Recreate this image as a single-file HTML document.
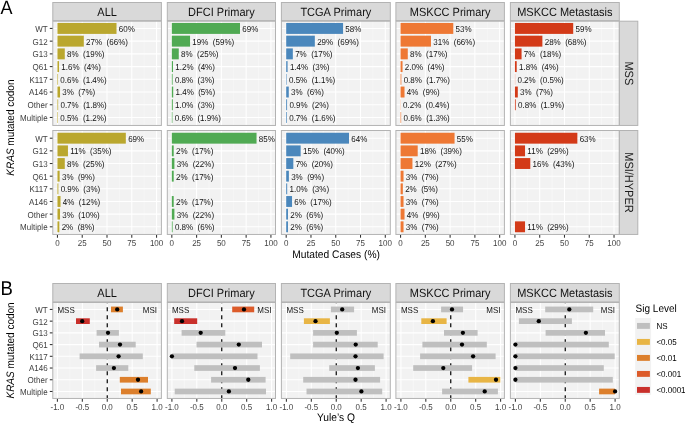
<!DOCTYPE html>
<html><head><meta charset="utf-8"><style>
html,body{margin:0;padding:0;background:#fff;}
body{width:685px;height:423px;overflow:hidden;}
svg{display:block;will-change:transform;}
text{font-family:"Liberation Sans", sans-serif;white-space:pre;text-rendering:geometricPrecision;}
</style></head><body>
<svg width="685" height="423" viewBox="0 0 685 423" font-family='"Liberation Sans", sans-serif'>
<rect width="685" height="423" fill="#FFFFFF"/>
<text transform="translate(0.60,14.00) scale(1,1.08)" font-size="18" text-anchor="start" fill="#000" >A</text>
<rect x="52.80" y="20.80" width="108.60" height="104.30" fill="#F2F2F2"/>
<line x1="69.84" y1="20.80" x2="69.84" y2="125.10" stroke="#FAFAFA" stroke-width="0.55"/>
<line x1="94.61" y1="20.80" x2="94.61" y2="125.10" stroke="#FAFAFA" stroke-width="0.55"/>
<line x1="119.39" y1="20.80" x2="119.39" y2="125.10" stroke="#FAFAFA" stroke-width="0.55"/>
<line x1="144.16" y1="20.80" x2="144.16" y2="125.10" stroke="#FAFAFA" stroke-width="0.55"/>
<line x1="52.80" y1="28.43" x2="161.40" y2="28.43" stroke="#FFFFFF" stroke-width="1.07"/>
<line x1="52.80" y1="41.15" x2="161.40" y2="41.15" stroke="#FFFFFF" stroke-width="1.07"/>
<line x1="52.80" y1="53.87" x2="161.40" y2="53.87" stroke="#FFFFFF" stroke-width="1.07"/>
<line x1="52.80" y1="66.59" x2="161.40" y2="66.59" stroke="#FFFFFF" stroke-width="1.07"/>
<line x1="52.80" y1="79.31" x2="161.40" y2="79.31" stroke="#FFFFFF" stroke-width="1.07"/>
<line x1="52.80" y1="92.03" x2="161.40" y2="92.03" stroke="#FFFFFF" stroke-width="1.07"/>
<line x1="52.80" y1="104.75" x2="161.40" y2="104.75" stroke="#FFFFFF" stroke-width="1.07"/>
<line x1="52.80" y1="117.47" x2="161.40" y2="117.47" stroke="#FFFFFF" stroke-width="1.07"/>
<line x1="57.45" y1="20.80" x2="57.45" y2="125.10" stroke="#FFFFFF" stroke-width="1.07"/>
<line x1="82.23" y1="20.80" x2="82.23" y2="125.10" stroke="#FFFFFF" stroke-width="1.07"/>
<line x1="107.00" y1="20.80" x2="107.00" y2="125.10" stroke="#FFFFFF" stroke-width="1.07"/>
<line x1="131.77" y1="20.80" x2="131.77" y2="125.10" stroke="#FFFFFF" stroke-width="1.07"/>
<line x1="156.55" y1="20.80" x2="156.55" y2="125.10" stroke="#FFFFFF" stroke-width="1.07"/>
<rect x="57.45" y="22.96" width="59.06" height="10.94" fill="#BAA72E"/>
<text transform="translate(118.81,32.00) scale(1,1.08)" font-size="8" text-anchor="start" fill="#111111" >60%</text>
<rect x="57.45" y="35.68" width="26.36" height="10.94" fill="#BAA72E"/>
<text transform="translate(86.11,45.00) scale(1,1.08)" font-size="8" text-anchor="start" fill="#111111" >27%  (66%)</text>
<rect x="57.45" y="48.40" width="7.33" height="10.94" fill="#BAA72E"/>
<text transform="translate(67.09,57.00) scale(1,1.08)" font-size="8" text-anchor="start" fill="#111111" >8%  (19%)</text>
<rect x="57.45" y="61.12" width="1.59" height="10.94" fill="#BAA72E"/>
<text transform="translate(61.34,70.00) scale(1,1.08)" font-size="8" text-anchor="start" fill="#111111" >1.6%  (4%)</text>
<rect x="57.45" y="73.84" width="0.59" height="10.94" fill="#BAA72E"/>
<text transform="translate(60.35,83.00) scale(1,1.08)" font-size="8" text-anchor="start" fill="#111111" >0.6%  (1.4%)</text>
<rect x="57.45" y="86.56" width="2.58" height="10.94" fill="#BAA72E"/>
<text transform="translate(62.33,95.00) scale(1,1.08)" font-size="8" text-anchor="start" fill="#111111" >3%  (7%)</text>
<rect x="57.45" y="99.28" width="0.69" height="10.94" fill="#BAA72E"/>
<text transform="translate(60.45,108.00) scale(1,1.08)" font-size="8" text-anchor="start" fill="#111111" >0.7%  (1.8%)</text>
<rect x="57.45" y="112.00" width="0.50" height="10.94" fill="#BAA72E"/>
<text transform="translate(60.25,121.00) scale(1,1.08)" font-size="8" text-anchor="start" fill="#111111" >0.5%  (1.2%)</text>
<rect x="52.80" y="21.20" width="108.60" height="104.25" fill="none" stroke="#B3B3B3" stroke-width="1"/>
<rect x="52.80" y="130.60" width="108.60" height="103.80" fill="#F2F2F2"/>
<line x1="69.84" y1="130.60" x2="69.84" y2="234.40" stroke="#FAFAFA" stroke-width="0.55"/>
<line x1="94.61" y1="130.60" x2="94.61" y2="234.40" stroke="#FAFAFA" stroke-width="0.55"/>
<line x1="119.39" y1="130.60" x2="119.39" y2="234.40" stroke="#FAFAFA" stroke-width="0.55"/>
<line x1="144.16" y1="130.60" x2="144.16" y2="234.40" stroke="#FAFAFA" stroke-width="0.55"/>
<line x1="52.80" y1="138.20" x2="161.40" y2="138.20" stroke="#FFFFFF" stroke-width="1.07"/>
<line x1="52.80" y1="150.85" x2="161.40" y2="150.85" stroke="#FFFFFF" stroke-width="1.07"/>
<line x1="52.80" y1="163.51" x2="161.40" y2="163.51" stroke="#FFFFFF" stroke-width="1.07"/>
<line x1="52.80" y1="176.17" x2="161.40" y2="176.17" stroke="#FFFFFF" stroke-width="1.07"/>
<line x1="52.80" y1="188.83" x2="161.40" y2="188.83" stroke="#FFFFFF" stroke-width="1.07"/>
<line x1="52.80" y1="201.49" x2="161.40" y2="201.49" stroke="#FFFFFF" stroke-width="1.07"/>
<line x1="52.80" y1="214.15" x2="161.40" y2="214.15" stroke="#FFFFFF" stroke-width="1.07"/>
<line x1="52.80" y1="226.80" x2="161.40" y2="226.80" stroke="#FFFFFF" stroke-width="1.07"/>
<line x1="57.45" y1="130.60" x2="57.45" y2="234.40" stroke="#FFFFFF" stroke-width="1.07"/>
<line x1="82.23" y1="130.60" x2="82.23" y2="234.40" stroke="#FFFFFF" stroke-width="1.07"/>
<line x1="107.00" y1="130.60" x2="107.00" y2="234.40" stroke="#FFFFFF" stroke-width="1.07"/>
<line x1="131.77" y1="130.60" x2="131.77" y2="234.40" stroke="#FFFFFF" stroke-width="1.07"/>
<line x1="156.55" y1="130.60" x2="156.55" y2="234.40" stroke="#FFFFFF" stroke-width="1.07"/>
<rect x="57.45" y="132.75" width="68.37" height="10.89" fill="#BAA72E"/>
<text transform="translate(128.13,142.00) scale(1,1.08)" font-size="8" text-anchor="start" fill="#111111" >69%</text>
<rect x="57.45" y="145.41" width="10.50" height="10.89" fill="#BAA72E"/>
<text transform="translate(70.26,154.00) scale(1,1.08)" font-size="8" text-anchor="start" fill="#111111" >11%  (35%)</text>
<rect x="57.45" y="158.07" width="7.33" height="10.89" fill="#BAA72E"/>
<text transform="translate(67.09,167.00) scale(1,1.08)" font-size="8" text-anchor="start" fill="#111111" >8%  (25%)</text>
<rect x="57.45" y="170.73" width="2.18" height="10.89" fill="#BAA72E"/>
<text transform="translate(61.93,180.00) scale(1,1.08)" font-size="8" text-anchor="start" fill="#111111" >3%  (9%)</text>
<rect x="57.45" y="183.39" width="0.89" height="10.89" fill="#BAA72E"/>
<text transform="translate(60.65,192.00) scale(1,1.08)" font-size="8" text-anchor="start" fill="#111111" >0.9%  (3%)</text>
<rect x="57.45" y="196.04" width="3.07" height="10.89" fill="#BAA72E"/>
<text transform="translate(62.83,205.00) scale(1,1.08)" font-size="8" text-anchor="start" fill="#111111" >4%  (12%)</text>
<rect x="57.45" y="208.70" width="2.58" height="10.89" fill="#BAA72E"/>
<text transform="translate(62.33,218.00) scale(1,1.08)" font-size="8" text-anchor="start" fill="#111111" >3%  (10%)</text>
<rect x="57.45" y="221.36" width="1.88" height="10.89" fill="#BAA72E"/>
<text transform="translate(61.64,230.00) scale(1,1.08)" font-size="8" text-anchor="start" fill="#111111" >2%  (8%)</text>
<rect x="52.80" y="130.50" width="108.60" height="103.95" fill="none" stroke="#B3B3B3" stroke-width="1"/>
<rect x="52.80" y="2.50" width="108.60" height="18.10" fill="#D9D9D9" stroke="#B3B3B3" stroke-width="1"/>
<text transform="translate(107.10,15.51) scale(1,1.08)" font-size="11" text-anchor="middle" fill="#111111" >ALL</text>
<line x1="57.45" y1="234.95" x2="57.45" y2="237.70" stroke="#333" stroke-width="1.07"/>
<text transform="translate(57.45,246.00) scale(1,1.08)" font-size="8" text-anchor="middle" fill="#424242" >0</text>
<line x1="82.23" y1="234.95" x2="82.23" y2="237.70" stroke="#333" stroke-width="1.07"/>
<text transform="translate(82.23,246.00) scale(1,1.08)" font-size="8" text-anchor="middle" fill="#424242" >25</text>
<line x1="107.00" y1="234.95" x2="107.00" y2="237.70" stroke="#333" stroke-width="1.07"/>
<text transform="translate(107.00,246.00) scale(1,1.08)" font-size="8" text-anchor="middle" fill="#424242" >50</text>
<line x1="131.77" y1="234.95" x2="131.77" y2="237.70" stroke="#333" stroke-width="1.07"/>
<text transform="translate(131.77,246.00) scale(1,1.08)" font-size="8" text-anchor="middle" fill="#424242" >75</text>
<line x1="156.55" y1="234.95" x2="156.55" y2="237.70" stroke="#333" stroke-width="1.07"/>
<text transform="translate(156.55,246.00) scale(1,1.08)" font-size="8" text-anchor="middle" fill="#424242" >100</text>
<rect x="167.30" y="20.80" width="108.20" height="104.30" fill="#F2F2F2"/>
<line x1="184.21" y1="20.80" x2="184.21" y2="125.10" stroke="#FAFAFA" stroke-width="0.55"/>
<line x1="208.98" y1="20.80" x2="208.98" y2="125.10" stroke="#FAFAFA" stroke-width="0.55"/>
<line x1="233.76" y1="20.80" x2="233.76" y2="125.10" stroke="#FAFAFA" stroke-width="0.55"/>
<line x1="258.53" y1="20.80" x2="258.53" y2="125.10" stroke="#FAFAFA" stroke-width="0.55"/>
<line x1="167.30" y1="28.43" x2="275.50" y2="28.43" stroke="#FFFFFF" stroke-width="1.07"/>
<line x1="167.30" y1="41.15" x2="275.50" y2="41.15" stroke="#FFFFFF" stroke-width="1.07"/>
<line x1="167.30" y1="53.87" x2="275.50" y2="53.87" stroke="#FFFFFF" stroke-width="1.07"/>
<line x1="167.30" y1="66.59" x2="275.50" y2="66.59" stroke="#FFFFFF" stroke-width="1.07"/>
<line x1="167.30" y1="79.31" x2="275.50" y2="79.31" stroke="#FFFFFF" stroke-width="1.07"/>
<line x1="167.30" y1="92.03" x2="275.50" y2="92.03" stroke="#FFFFFF" stroke-width="1.07"/>
<line x1="167.30" y1="104.75" x2="275.50" y2="104.75" stroke="#FFFFFF" stroke-width="1.07"/>
<line x1="167.30" y1="117.47" x2="275.50" y2="117.47" stroke="#FFFFFF" stroke-width="1.07"/>
<line x1="171.82" y1="20.80" x2="171.82" y2="125.10" stroke="#FFFFFF" stroke-width="1.07"/>
<line x1="196.60" y1="20.80" x2="196.60" y2="125.10" stroke="#FFFFFF" stroke-width="1.07"/>
<line x1="221.37" y1="20.80" x2="221.37" y2="125.10" stroke="#FFFFFF" stroke-width="1.07"/>
<line x1="246.14" y1="20.80" x2="246.14" y2="125.10" stroke="#FFFFFF" stroke-width="1.07"/>
<line x1="270.92" y1="20.80" x2="270.92" y2="125.10" stroke="#FFFFFF" stroke-width="1.07"/>
<rect x="171.82" y="22.96" width="68.17" height="10.94" fill="#50AA53"/>
<text transform="translate(242.30,32.00) scale(1,1.08)" font-size="8" text-anchor="start" fill="#111111" >69%</text>
<rect x="171.82" y="35.68" width="18.23" height="10.94" fill="#50AA53"/>
<text transform="translate(192.36,45.00) scale(1,1.08)" font-size="8" text-anchor="start" fill="#111111" >19%  (59%)</text>
<rect x="171.82" y="48.40" width="6.94" height="10.94" fill="#50AA53"/>
<text transform="translate(181.06,57.00) scale(1,1.08)" font-size="8" text-anchor="start" fill="#111111" >8%  (25%)</text>
<rect x="171.82" y="61.12" width="1.19" height="10.94" fill="#50AA53"/>
<text transform="translate(175.31,70.00) scale(1,1.08)" font-size="8" text-anchor="start" fill="#111111" >1.2%  (4%)</text>
<rect x="171.82" y="73.84" width="0.79" height="10.94" fill="#50AA53"/>
<text transform="translate(174.92,83.00) scale(1,1.08)" font-size="8" text-anchor="start" fill="#111111" >0.8%  (3%)</text>
<rect x="171.82" y="86.56" width="1.39" height="10.94" fill="#50AA53"/>
<text transform="translate(175.51,95.00) scale(1,1.08)" font-size="8" text-anchor="start" fill="#111111" >1.4%  (5%)</text>
<rect x="171.82" y="99.28" width="0.99" height="10.94" fill="#50AA53"/>
<text transform="translate(175.12,108.00) scale(1,1.08)" font-size="8" text-anchor="start" fill="#111111" >1.0%  (3%)</text>
<rect x="171.82" y="112.00" width="0.59" height="10.94" fill="#50AA53"/>
<text transform="translate(174.72,121.00) scale(1,1.08)" font-size="8" text-anchor="start" fill="#111111" >0.6%  (1.9%)</text>
<rect x="167.30" y="21.20" width="108.20" height="104.25" fill="none" stroke="#B3B3B3" stroke-width="1"/>
<rect x="167.30" y="130.60" width="108.20" height="103.80" fill="#F2F2F2"/>
<line x1="184.21" y1="130.60" x2="184.21" y2="234.40" stroke="#FAFAFA" stroke-width="0.55"/>
<line x1="208.98" y1="130.60" x2="208.98" y2="234.40" stroke="#FAFAFA" stroke-width="0.55"/>
<line x1="233.76" y1="130.60" x2="233.76" y2="234.40" stroke="#FAFAFA" stroke-width="0.55"/>
<line x1="258.53" y1="130.60" x2="258.53" y2="234.40" stroke="#FAFAFA" stroke-width="0.55"/>
<line x1="167.30" y1="138.20" x2="275.50" y2="138.20" stroke="#FFFFFF" stroke-width="1.07"/>
<line x1="167.30" y1="150.85" x2="275.50" y2="150.85" stroke="#FFFFFF" stroke-width="1.07"/>
<line x1="167.30" y1="163.51" x2="275.50" y2="163.51" stroke="#FFFFFF" stroke-width="1.07"/>
<line x1="167.30" y1="176.17" x2="275.50" y2="176.17" stroke="#FFFFFF" stroke-width="1.07"/>
<line x1="167.30" y1="188.83" x2="275.50" y2="188.83" stroke="#FFFFFF" stroke-width="1.07"/>
<line x1="167.30" y1="201.49" x2="275.50" y2="201.49" stroke="#FFFFFF" stroke-width="1.07"/>
<line x1="167.30" y1="214.15" x2="275.50" y2="214.15" stroke="#FFFFFF" stroke-width="1.07"/>
<line x1="167.30" y1="226.80" x2="275.50" y2="226.80" stroke="#FFFFFF" stroke-width="1.07"/>
<line x1="171.82" y1="130.60" x2="171.82" y2="234.40" stroke="#FFFFFF" stroke-width="1.07"/>
<line x1="196.60" y1="130.60" x2="196.60" y2="234.40" stroke="#FFFFFF" stroke-width="1.07"/>
<line x1="221.37" y1="130.60" x2="221.37" y2="234.40" stroke="#FFFFFF" stroke-width="1.07"/>
<line x1="246.14" y1="130.60" x2="246.14" y2="234.40" stroke="#FFFFFF" stroke-width="1.07"/>
<line x1="270.92" y1="130.60" x2="270.92" y2="234.40" stroke="#FFFFFF" stroke-width="1.07"/>
<rect x="171.82" y="132.75" width="84.72" height="10.89" fill="#50AA53"/>
<text transform="translate(258.85,142.00) scale(1,1.08)" font-size="8" text-anchor="start" fill="#111111" >85%</text>
<rect x="171.82" y="145.41" width="1.88" height="10.89" fill="#50AA53"/>
<text transform="translate(176.01,154.00) scale(1,1.08)" font-size="8" text-anchor="start" fill="#111111" >2%  (17%)</text>
<rect x="171.82" y="158.07" width="2.58" height="10.89" fill="#50AA53"/>
<text transform="translate(176.70,167.00) scale(1,1.08)" font-size="8" text-anchor="start" fill="#111111" >3%  (22%)</text>
<rect x="171.82" y="170.73" width="1.88" height="10.89" fill="#50AA53"/>
<text transform="translate(176.01,180.00) scale(1,1.08)" font-size="8" text-anchor="start" fill="#111111" >2%  (17%)</text>
<rect x="171.82" y="196.04" width="1.88" height="10.89" fill="#50AA53"/>
<text transform="translate(176.01,205.00) scale(1,1.08)" font-size="8" text-anchor="start" fill="#111111" >2%  (17%)</text>
<rect x="171.82" y="208.70" width="2.58" height="10.89" fill="#50AA53"/>
<text transform="translate(176.70,218.00) scale(1,1.08)" font-size="8" text-anchor="start" fill="#111111" >3%  (22%)</text>
<rect x="171.82" y="221.36" width="0.79" height="10.89" fill="#50AA53"/>
<text transform="translate(174.92,230.00) scale(1,1.08)" font-size="8" text-anchor="start" fill="#111111" >0.8%  (6%)</text>
<rect x="167.30" y="130.50" width="108.20" height="103.95" fill="none" stroke="#B3B3B3" stroke-width="1"/>
<rect x="167.30" y="2.50" width="108.20" height="18.10" fill="#D9D9D9" stroke="#B3B3B3" stroke-width="1"/>
<text transform="translate(221.40,15.51) scale(1,1.08)" font-size="11" text-anchor="middle" fill="#111111" >DFCI Primary</text>
<line x1="171.82" y1="234.95" x2="171.82" y2="237.70" stroke="#333" stroke-width="1.07"/>
<text transform="translate(171.82,246.00) scale(1,1.08)" font-size="8" text-anchor="middle" fill="#424242" >0</text>
<line x1="196.60" y1="234.95" x2="196.60" y2="237.70" stroke="#333" stroke-width="1.07"/>
<text transform="translate(196.60,246.00) scale(1,1.08)" font-size="8" text-anchor="middle" fill="#424242" >25</text>
<line x1="221.37" y1="234.95" x2="221.37" y2="237.70" stroke="#333" stroke-width="1.07"/>
<text transform="translate(221.37,246.00) scale(1,1.08)" font-size="8" text-anchor="middle" fill="#424242" >50</text>
<line x1="246.14" y1="234.95" x2="246.14" y2="237.70" stroke="#333" stroke-width="1.07"/>
<text transform="translate(246.14,246.00) scale(1,1.08)" font-size="8" text-anchor="middle" fill="#424242" >75</text>
<line x1="270.92" y1="234.95" x2="270.92" y2="237.70" stroke="#333" stroke-width="1.07"/>
<text transform="translate(270.92,246.00) scale(1,1.08)" font-size="8" text-anchor="middle" fill="#424242" >100</text>
<rect x="281.40" y="20.80" width="108.90" height="104.30" fill="#F2F2F2"/>
<line x1="298.58" y1="20.80" x2="298.58" y2="125.10" stroke="#FAFAFA" stroke-width="0.55"/>
<line x1="323.35" y1="20.80" x2="323.35" y2="125.10" stroke="#FAFAFA" stroke-width="0.55"/>
<line x1="348.13" y1="20.80" x2="348.13" y2="125.10" stroke="#FAFAFA" stroke-width="0.55"/>
<line x1="372.90" y1="20.80" x2="372.90" y2="125.10" stroke="#FAFAFA" stroke-width="0.55"/>
<line x1="281.40" y1="28.43" x2="390.30" y2="28.43" stroke="#FFFFFF" stroke-width="1.07"/>
<line x1="281.40" y1="41.15" x2="390.30" y2="41.15" stroke="#FFFFFF" stroke-width="1.07"/>
<line x1="281.40" y1="53.87" x2="390.30" y2="53.87" stroke="#FFFFFF" stroke-width="1.07"/>
<line x1="281.40" y1="66.59" x2="390.30" y2="66.59" stroke="#FFFFFF" stroke-width="1.07"/>
<line x1="281.40" y1="79.31" x2="390.30" y2="79.31" stroke="#FFFFFF" stroke-width="1.07"/>
<line x1="281.40" y1="92.03" x2="390.30" y2="92.03" stroke="#FFFFFF" stroke-width="1.07"/>
<line x1="281.40" y1="104.75" x2="390.30" y2="104.75" stroke="#FFFFFF" stroke-width="1.07"/>
<line x1="281.40" y1="117.47" x2="390.30" y2="117.47" stroke="#FFFFFF" stroke-width="1.07"/>
<line x1="286.19" y1="20.80" x2="286.19" y2="125.10" stroke="#FFFFFF" stroke-width="1.07"/>
<line x1="310.97" y1="20.80" x2="310.97" y2="125.10" stroke="#FFFFFF" stroke-width="1.07"/>
<line x1="335.74" y1="20.80" x2="335.74" y2="125.10" stroke="#FFFFFF" stroke-width="1.07"/>
<line x1="360.51" y1="20.80" x2="360.51" y2="125.10" stroke="#FFFFFF" stroke-width="1.07"/>
<line x1="385.29" y1="20.80" x2="385.29" y2="125.10" stroke="#FFFFFF" stroke-width="1.07"/>
<rect x="286.19" y="22.96" width="56.88" height="10.94" fill="#4A87BC"/>
<text transform="translate(345.37,32.00) scale(1,1.08)" font-size="8" text-anchor="start" fill="#111111" >58%</text>
<rect x="286.19" y="35.68" width="28.64" height="10.94" fill="#4A87BC"/>
<text transform="translate(317.13,45.00) scale(1,1.08)" font-size="8" text-anchor="start" fill="#111111" >29%  (69%)</text>
<rect x="286.19" y="48.40" width="6.64" height="10.94" fill="#4A87BC"/>
<text transform="translate(295.13,57.00) scale(1,1.08)" font-size="8" text-anchor="start" fill="#111111" >7%  (17%)</text>
<rect x="286.19" y="61.12" width="1.39" height="10.94" fill="#4A87BC"/>
<text transform="translate(289.88,70.00) scale(1,1.08)" font-size="8" text-anchor="start" fill="#111111" >1.4%  (3%)</text>
<rect x="286.19" y="73.84" width="0.50" height="10.94" fill="#4A87BC"/>
<text transform="translate(288.99,83.00) scale(1,1.08)" font-size="8" text-anchor="start" fill="#111111" >0.5%  (1.1%)</text>
<rect x="286.19" y="86.56" width="2.58" height="10.94" fill="#4A87BC"/>
<text transform="translate(291.07,95.00) scale(1,1.08)" font-size="8" text-anchor="start" fill="#111111" >3%  (6%)</text>
<rect x="286.19" y="99.28" width="0.89" height="10.94" fill="#4A87BC"/>
<text transform="translate(289.39,108.00) scale(1,1.08)" font-size="8" text-anchor="start" fill="#111111" >0.9%  (2%)</text>
<rect x="286.19" y="112.00" width="0.69" height="10.94" fill="#4A87BC"/>
<text transform="translate(289.19,121.00) scale(1,1.08)" font-size="8" text-anchor="start" fill="#111111" >0.7%  (1.6%)</text>
<rect x="281.40" y="21.20" width="108.90" height="104.25" fill="none" stroke="#B3B3B3" stroke-width="1"/>
<rect x="281.40" y="130.60" width="108.90" height="103.80" fill="#F2F2F2"/>
<line x1="298.58" y1="130.60" x2="298.58" y2="234.40" stroke="#FAFAFA" stroke-width="0.55"/>
<line x1="323.35" y1="130.60" x2="323.35" y2="234.40" stroke="#FAFAFA" stroke-width="0.55"/>
<line x1="348.13" y1="130.60" x2="348.13" y2="234.40" stroke="#FAFAFA" stroke-width="0.55"/>
<line x1="372.90" y1="130.60" x2="372.90" y2="234.40" stroke="#FAFAFA" stroke-width="0.55"/>
<line x1="281.40" y1="138.20" x2="390.30" y2="138.20" stroke="#FFFFFF" stroke-width="1.07"/>
<line x1="281.40" y1="150.85" x2="390.30" y2="150.85" stroke="#FFFFFF" stroke-width="1.07"/>
<line x1="281.40" y1="163.51" x2="390.30" y2="163.51" stroke="#FFFFFF" stroke-width="1.07"/>
<line x1="281.40" y1="176.17" x2="390.30" y2="176.17" stroke="#FFFFFF" stroke-width="1.07"/>
<line x1="281.40" y1="188.83" x2="390.30" y2="188.83" stroke="#FFFFFF" stroke-width="1.07"/>
<line x1="281.40" y1="201.49" x2="390.30" y2="201.49" stroke="#FFFFFF" stroke-width="1.07"/>
<line x1="281.40" y1="214.15" x2="390.30" y2="214.15" stroke="#FFFFFF" stroke-width="1.07"/>
<line x1="281.40" y1="226.80" x2="390.30" y2="226.80" stroke="#FFFFFF" stroke-width="1.07"/>
<line x1="286.19" y1="130.60" x2="286.19" y2="234.40" stroke="#FFFFFF" stroke-width="1.07"/>
<line x1="310.97" y1="130.60" x2="310.97" y2="234.40" stroke="#FFFFFF" stroke-width="1.07"/>
<line x1="335.74" y1="130.60" x2="335.74" y2="234.40" stroke="#FFFFFF" stroke-width="1.07"/>
<line x1="360.51" y1="130.60" x2="360.51" y2="234.40" stroke="#FFFFFF" stroke-width="1.07"/>
<line x1="385.29" y1="130.60" x2="385.29" y2="234.40" stroke="#FFFFFF" stroke-width="1.07"/>
<rect x="286.19" y="132.75" width="62.82" height="10.89" fill="#4A87BC"/>
<text transform="translate(351.32,142.00) scale(1,1.08)" font-size="8" text-anchor="start" fill="#111111" >64%</text>
<rect x="286.19" y="145.41" width="14.47" height="10.89" fill="#4A87BC"/>
<text transform="translate(302.96,154.00) scale(1,1.08)" font-size="8" text-anchor="start" fill="#111111" >15%  (40%)</text>
<rect x="286.19" y="158.07" width="7.13" height="10.89" fill="#4A87BC"/>
<text transform="translate(295.63,167.00) scale(1,1.08)" font-size="8" text-anchor="start" fill="#111111" >7%  (20%)</text>
<rect x="286.19" y="170.73" width="2.68" height="10.89" fill="#4A87BC"/>
<text transform="translate(291.17,180.00) scale(1,1.08)" font-size="8" text-anchor="start" fill="#111111" >3%  (9%)</text>
<rect x="286.19" y="183.39" width="0.99" height="10.89" fill="#4A87BC"/>
<text transform="translate(289.49,192.00) scale(1,1.08)" font-size="8" text-anchor="start" fill="#111111" >1.0%  (3%)</text>
<rect x="286.19" y="196.04" width="5.85" height="10.89" fill="#4A87BC"/>
<text transform="translate(294.34,205.00) scale(1,1.08)" font-size="8" text-anchor="start" fill="#111111" >6%  (17%)</text>
<rect x="286.19" y="208.70" width="1.78" height="10.89" fill="#4A87BC"/>
<text transform="translate(290.28,218.00) scale(1,1.08)" font-size="8" text-anchor="start" fill="#111111" >2%  (6%)</text>
<rect x="286.19" y="221.36" width="1.78" height="10.89" fill="#4A87BC"/>
<text transform="translate(290.28,230.00) scale(1,1.08)" font-size="8" text-anchor="start" fill="#111111" >2%  (6%)</text>
<rect x="281.40" y="130.50" width="108.90" height="103.95" fill="none" stroke="#B3B3B3" stroke-width="1"/>
<rect x="281.40" y="2.50" width="108.90" height="18.10" fill="#D9D9D9" stroke="#B3B3B3" stroke-width="1"/>
<text transform="translate(335.85,15.51) scale(1,1.08)" font-size="11" text-anchor="middle" fill="#111111" >TCGA Primary</text>
<line x1="286.19" y1="234.95" x2="286.19" y2="237.70" stroke="#333" stroke-width="1.07"/>
<text transform="translate(286.19,246.00) scale(1,1.08)" font-size="8" text-anchor="middle" fill="#424242" >0</text>
<line x1="310.97" y1="234.95" x2="310.97" y2="237.70" stroke="#333" stroke-width="1.07"/>
<text transform="translate(310.97,246.00) scale(1,1.08)" font-size="8" text-anchor="middle" fill="#424242" >25</text>
<line x1="335.74" y1="234.95" x2="335.74" y2="237.70" stroke="#333" stroke-width="1.07"/>
<text transform="translate(335.74,246.00) scale(1,1.08)" font-size="8" text-anchor="middle" fill="#424242" >50</text>
<line x1="360.51" y1="234.95" x2="360.51" y2="237.70" stroke="#333" stroke-width="1.07"/>
<text transform="translate(360.51,246.00) scale(1,1.08)" font-size="8" text-anchor="middle" fill="#424242" >75</text>
<line x1="385.29" y1="234.95" x2="385.29" y2="237.70" stroke="#333" stroke-width="1.07"/>
<text transform="translate(385.29,246.00) scale(1,1.08)" font-size="8" text-anchor="middle" fill="#424242" >100</text>
<rect x="395.90" y="20.80" width="108.50" height="104.30" fill="#F2F2F2"/>
<line x1="412.95" y1="20.80" x2="412.95" y2="125.10" stroke="#FAFAFA" stroke-width="0.55"/>
<line x1="437.72" y1="20.80" x2="437.72" y2="125.10" stroke="#FAFAFA" stroke-width="0.55"/>
<line x1="462.50" y1="20.80" x2="462.50" y2="125.10" stroke="#FAFAFA" stroke-width="0.55"/>
<line x1="487.27" y1="20.80" x2="487.27" y2="125.10" stroke="#FAFAFA" stroke-width="0.55"/>
<line x1="395.90" y1="28.43" x2="504.40" y2="28.43" stroke="#FFFFFF" stroke-width="1.07"/>
<line x1="395.90" y1="41.15" x2="504.40" y2="41.15" stroke="#FFFFFF" stroke-width="1.07"/>
<line x1="395.90" y1="53.87" x2="504.40" y2="53.87" stroke="#FFFFFF" stroke-width="1.07"/>
<line x1="395.90" y1="66.59" x2="504.40" y2="66.59" stroke="#FFFFFF" stroke-width="1.07"/>
<line x1="395.90" y1="79.31" x2="504.40" y2="79.31" stroke="#FFFFFF" stroke-width="1.07"/>
<line x1="395.90" y1="92.03" x2="504.40" y2="92.03" stroke="#FFFFFF" stroke-width="1.07"/>
<line x1="395.90" y1="104.75" x2="504.40" y2="104.75" stroke="#FFFFFF" stroke-width="1.07"/>
<line x1="395.90" y1="117.47" x2="504.40" y2="117.47" stroke="#FFFFFF" stroke-width="1.07"/>
<line x1="400.56" y1="20.80" x2="400.56" y2="125.10" stroke="#FFFFFF" stroke-width="1.07"/>
<line x1="425.34" y1="20.80" x2="425.34" y2="125.10" stroke="#FFFFFF" stroke-width="1.07"/>
<line x1="450.11" y1="20.80" x2="450.11" y2="125.10" stroke="#FFFFFF" stroke-width="1.07"/>
<line x1="474.88" y1="20.80" x2="474.88" y2="125.10" stroke="#FFFFFF" stroke-width="1.07"/>
<line x1="499.66" y1="20.80" x2="499.66" y2="125.10" stroke="#FFFFFF" stroke-width="1.07"/>
<rect x="400.56" y="22.96" width="52.72" height="10.94" fill="#EE7834"/>
<text transform="translate(455.58,32.00) scale(1,1.08)" font-size="8" text-anchor="start" fill="#111111" >53%</text>
<rect x="400.56" y="35.68" width="30.42" height="10.94" fill="#EE7834"/>
<text transform="translate(433.29,45.00) scale(1,1.08)" font-size="8" text-anchor="start" fill="#111111" >31%  (66%)</text>
<rect x="400.56" y="48.40" width="7.23" height="10.94" fill="#EE7834"/>
<text transform="translate(410.10,57.00) scale(1,1.08)" font-size="8" text-anchor="start" fill="#111111" >8%  (17%)</text>
<rect x="400.56" y="61.12" width="1.98" height="10.94" fill="#EE7834"/>
<text transform="translate(404.85,70.00) scale(1,1.08)" font-size="8" text-anchor="start" fill="#111111" >2.0%  (4%)</text>
<rect x="400.56" y="73.84" width="0.79" height="10.94" fill="#EE7834"/>
<text transform="translate(403.66,83.00) scale(1,1.08)" font-size="8" text-anchor="start" fill="#111111" >0.8%  (1.7%)</text>
<rect x="400.56" y="86.56" width="3.96" height="10.94" fill="#EE7834"/>
<text transform="translate(406.83,95.00) scale(1,1.08)" font-size="8" text-anchor="start" fill="#111111" >4%  (9%)</text>
<rect x="400.56" y="99.28" width="0.20" height="10.94" fill="#EE7834"/>
<text transform="translate(403.06,108.00) scale(1,1.08)" font-size="8" text-anchor="start" fill="#111111" >0.2%  (0.4%)</text>
<rect x="400.56" y="112.00" width="0.59" height="10.94" fill="#EE7834"/>
<text transform="translate(403.46,121.00) scale(1,1.08)" font-size="8" text-anchor="start" fill="#111111" >0.6%  (1.3%)</text>
<rect x="395.90" y="21.20" width="108.50" height="104.25" fill="none" stroke="#B3B3B3" stroke-width="1"/>
<rect x="395.90" y="130.60" width="108.50" height="103.80" fill="#F2F2F2"/>
<line x1="412.95" y1="130.60" x2="412.95" y2="234.40" stroke="#FAFAFA" stroke-width="0.55"/>
<line x1="437.72" y1="130.60" x2="437.72" y2="234.40" stroke="#FAFAFA" stroke-width="0.55"/>
<line x1="462.50" y1="130.60" x2="462.50" y2="234.40" stroke="#FAFAFA" stroke-width="0.55"/>
<line x1="487.27" y1="130.60" x2="487.27" y2="234.40" stroke="#FAFAFA" stroke-width="0.55"/>
<line x1="395.90" y1="138.20" x2="504.40" y2="138.20" stroke="#FFFFFF" stroke-width="1.07"/>
<line x1="395.90" y1="150.85" x2="504.40" y2="150.85" stroke="#FFFFFF" stroke-width="1.07"/>
<line x1="395.90" y1="163.51" x2="504.40" y2="163.51" stroke="#FFFFFF" stroke-width="1.07"/>
<line x1="395.90" y1="176.17" x2="504.40" y2="176.17" stroke="#FFFFFF" stroke-width="1.07"/>
<line x1="395.90" y1="188.83" x2="504.40" y2="188.83" stroke="#FFFFFF" stroke-width="1.07"/>
<line x1="395.90" y1="201.49" x2="504.40" y2="201.49" stroke="#FFFFFF" stroke-width="1.07"/>
<line x1="395.90" y1="214.15" x2="504.40" y2="214.15" stroke="#FFFFFF" stroke-width="1.07"/>
<line x1="395.90" y1="226.80" x2="504.40" y2="226.80" stroke="#FFFFFF" stroke-width="1.07"/>
<line x1="400.56" y1="130.60" x2="400.56" y2="234.40" stroke="#FFFFFF" stroke-width="1.07"/>
<line x1="425.34" y1="130.60" x2="425.34" y2="234.40" stroke="#FFFFFF" stroke-width="1.07"/>
<line x1="450.11" y1="130.60" x2="450.11" y2="234.40" stroke="#FFFFFF" stroke-width="1.07"/>
<line x1="474.88" y1="130.60" x2="474.88" y2="234.40" stroke="#FFFFFF" stroke-width="1.07"/>
<line x1="499.66" y1="130.60" x2="499.66" y2="234.40" stroke="#FFFFFF" stroke-width="1.07"/>
<rect x="400.56" y="132.75" width="54.00" height="10.89" fill="#EE7834"/>
<text transform="translate(456.87,142.00) scale(1,1.08)" font-size="8" text-anchor="start" fill="#111111" >55%</text>
<rect x="400.56" y="145.41" width="17.14" height="10.89" fill="#EE7834"/>
<text transform="translate(420.01,154.00) scale(1,1.08)" font-size="8" text-anchor="start" fill="#111111" >18%  (39%)</text>
<rect x="400.56" y="158.07" width="11.89" height="10.89" fill="#EE7834"/>
<text transform="translate(414.76,167.00) scale(1,1.08)" font-size="8" text-anchor="start" fill="#111111" >12%  (27%)</text>
<rect x="400.56" y="170.73" width="2.97" height="10.89" fill="#EE7834"/>
<text transform="translate(405.84,180.00) scale(1,1.08)" font-size="8" text-anchor="start" fill="#111111" >3%  (7%)</text>
<rect x="400.56" y="183.39" width="2.28" height="10.89" fill="#EE7834"/>
<text transform="translate(405.14,192.00) scale(1,1.08)" font-size="8" text-anchor="start" fill="#111111" >2%  (5%)</text>
<rect x="400.56" y="196.04" width="2.97" height="10.89" fill="#EE7834"/>
<text transform="translate(405.84,205.00) scale(1,1.08)" font-size="8" text-anchor="start" fill="#111111" >3%  (7%)</text>
<rect x="400.56" y="208.70" width="3.96" height="10.89" fill="#EE7834"/>
<text transform="translate(406.83,218.00) scale(1,1.08)" font-size="8" text-anchor="start" fill="#111111" >4%  (9%)</text>
<rect x="400.56" y="221.36" width="2.97" height="10.89" fill="#EE7834"/>
<text transform="translate(405.84,230.00) scale(1,1.08)" font-size="8" text-anchor="start" fill="#111111" >3%  (7%)</text>
<rect x="395.90" y="130.50" width="108.50" height="103.95" fill="none" stroke="#B3B3B3" stroke-width="1"/>
<rect x="395.90" y="2.50" width="108.50" height="18.10" fill="#D9D9D9" stroke="#B3B3B3" stroke-width="1"/>
<text transform="translate(450.15,15.51) scale(1,1.08)" font-size="11" text-anchor="middle" fill="#111111" >MSKCC Primary</text>
<line x1="400.56" y1="234.95" x2="400.56" y2="237.70" stroke="#333" stroke-width="1.07"/>
<text transform="translate(400.56,246.00) scale(1,1.08)" font-size="8" text-anchor="middle" fill="#424242" >0</text>
<line x1="425.34" y1="234.95" x2="425.34" y2="237.70" stroke="#333" stroke-width="1.07"/>
<text transform="translate(425.34,246.00) scale(1,1.08)" font-size="8" text-anchor="middle" fill="#424242" >25</text>
<line x1="450.11" y1="234.95" x2="450.11" y2="237.70" stroke="#333" stroke-width="1.07"/>
<text transform="translate(450.11,246.00) scale(1,1.08)" font-size="8" text-anchor="middle" fill="#424242" >50</text>
<line x1="474.88" y1="234.95" x2="474.88" y2="237.70" stroke="#333" stroke-width="1.07"/>
<text transform="translate(474.88,246.00) scale(1,1.08)" font-size="8" text-anchor="middle" fill="#424242" >75</text>
<line x1="499.66" y1="234.95" x2="499.66" y2="237.70" stroke="#333" stroke-width="1.07"/>
<text transform="translate(499.66,246.00) scale(1,1.08)" font-size="8" text-anchor="middle" fill="#424242" >100</text>
<rect x="510.40" y="20.80" width="108.90" height="104.30" fill="#F2F2F2"/>
<line x1="527.32" y1="20.80" x2="527.32" y2="125.10" stroke="#FAFAFA" stroke-width="0.55"/>
<line x1="552.09" y1="20.80" x2="552.09" y2="125.10" stroke="#FAFAFA" stroke-width="0.55"/>
<line x1="576.87" y1="20.80" x2="576.87" y2="125.10" stroke="#FAFAFA" stroke-width="0.55"/>
<line x1="601.64" y1="20.80" x2="601.64" y2="125.10" stroke="#FAFAFA" stroke-width="0.55"/>
<line x1="510.40" y1="28.43" x2="619.30" y2="28.43" stroke="#FFFFFF" stroke-width="1.07"/>
<line x1="510.40" y1="41.15" x2="619.30" y2="41.15" stroke="#FFFFFF" stroke-width="1.07"/>
<line x1="510.40" y1="53.87" x2="619.30" y2="53.87" stroke="#FFFFFF" stroke-width="1.07"/>
<line x1="510.40" y1="66.59" x2="619.30" y2="66.59" stroke="#FFFFFF" stroke-width="1.07"/>
<line x1="510.40" y1="79.31" x2="619.30" y2="79.31" stroke="#FFFFFF" stroke-width="1.07"/>
<line x1="510.40" y1="92.03" x2="619.30" y2="92.03" stroke="#FFFFFF" stroke-width="1.07"/>
<line x1="510.40" y1="104.75" x2="619.30" y2="104.75" stroke="#FFFFFF" stroke-width="1.07"/>
<line x1="510.40" y1="117.47" x2="619.30" y2="117.47" stroke="#FFFFFF" stroke-width="1.07"/>
<line x1="514.93" y1="20.80" x2="514.93" y2="125.10" stroke="#FFFFFF" stroke-width="1.07"/>
<line x1="539.71" y1="20.80" x2="539.71" y2="125.10" stroke="#FFFFFF" stroke-width="1.07"/>
<line x1="564.48" y1="20.80" x2="564.48" y2="125.10" stroke="#FFFFFF" stroke-width="1.07"/>
<line x1="589.25" y1="20.80" x2="589.25" y2="125.10" stroke="#FFFFFF" stroke-width="1.07"/>
<line x1="614.03" y1="20.80" x2="614.03" y2="125.10" stroke="#FFFFFF" stroke-width="1.07"/>
<rect x="514.93" y="22.96" width="58.27" height="10.94" fill="#D33A18"/>
<text transform="translate(575.50,32.00) scale(1,1.08)" font-size="8" text-anchor="start" fill="#111111" >59%</text>
<rect x="514.93" y="35.68" width="27.45" height="10.94" fill="#D33A18"/>
<text transform="translate(544.68,45.00) scale(1,1.08)" font-size="8" text-anchor="start" fill="#111111" >28%  (68%)</text>
<rect x="514.93" y="48.40" width="6.64" height="10.94" fill="#D33A18"/>
<text transform="translate(523.87,57.00) scale(1,1.08)" font-size="8" text-anchor="start" fill="#111111" >7%  (18%)</text>
<rect x="514.93" y="61.12" width="1.78" height="10.94" fill="#D33A18"/>
<text transform="translate(519.02,70.00) scale(1,1.08)" font-size="8" text-anchor="start" fill="#111111" >1.8%  (4%)</text>
<rect x="514.93" y="73.84" width="0.20" height="10.94" fill="#D33A18"/>
<text transform="translate(517.43,83.00) scale(1,1.08)" font-size="8" text-anchor="start" fill="#111111" >0.2%  (0.5%)</text>
<rect x="514.93" y="86.56" width="2.87" height="10.94" fill="#D33A18"/>
<text transform="translate(520.11,95.00) scale(1,1.08)" font-size="8" text-anchor="start" fill="#111111" >3%  (7%)</text>
<rect x="514.93" y="99.28" width="0.79" height="10.94" fill="#D33A18"/>
<text transform="translate(518.03,108.00) scale(1,1.08)" font-size="8" text-anchor="start" fill="#111111" >0.8%  (1.9%)</text>
<rect x="510.40" y="21.20" width="108.90" height="104.25" fill="none" stroke="#B3B3B3" stroke-width="1"/>
<rect x="510.40" y="130.60" width="108.90" height="103.80" fill="#F2F2F2"/>
<line x1="527.32" y1="130.60" x2="527.32" y2="234.40" stroke="#FAFAFA" stroke-width="0.55"/>
<line x1="552.09" y1="130.60" x2="552.09" y2="234.40" stroke="#FAFAFA" stroke-width="0.55"/>
<line x1="576.87" y1="130.60" x2="576.87" y2="234.40" stroke="#FAFAFA" stroke-width="0.55"/>
<line x1="601.64" y1="130.60" x2="601.64" y2="234.40" stroke="#FAFAFA" stroke-width="0.55"/>
<line x1="510.40" y1="138.20" x2="619.30" y2="138.20" stroke="#FFFFFF" stroke-width="1.07"/>
<line x1="510.40" y1="150.85" x2="619.30" y2="150.85" stroke="#FFFFFF" stroke-width="1.07"/>
<line x1="510.40" y1="163.51" x2="619.30" y2="163.51" stroke="#FFFFFF" stroke-width="1.07"/>
<line x1="510.40" y1="176.17" x2="619.30" y2="176.17" stroke="#FFFFFF" stroke-width="1.07"/>
<line x1="510.40" y1="188.83" x2="619.30" y2="188.83" stroke="#FFFFFF" stroke-width="1.07"/>
<line x1="510.40" y1="201.49" x2="619.30" y2="201.49" stroke="#FFFFFF" stroke-width="1.07"/>
<line x1="510.40" y1="214.15" x2="619.30" y2="214.15" stroke="#FFFFFF" stroke-width="1.07"/>
<line x1="510.40" y1="226.80" x2="619.30" y2="226.80" stroke="#FFFFFF" stroke-width="1.07"/>
<line x1="514.93" y1="130.60" x2="514.93" y2="234.40" stroke="#FFFFFF" stroke-width="1.07"/>
<line x1="539.71" y1="130.60" x2="539.71" y2="234.40" stroke="#FFFFFF" stroke-width="1.07"/>
<line x1="564.48" y1="130.60" x2="564.48" y2="234.40" stroke="#FFFFFF" stroke-width="1.07"/>
<line x1="589.25" y1="130.60" x2="589.25" y2="234.40" stroke="#FFFFFF" stroke-width="1.07"/>
<line x1="614.03" y1="130.60" x2="614.03" y2="234.40" stroke="#FFFFFF" stroke-width="1.07"/>
<rect x="514.93" y="132.75" width="62.43" height="10.89" fill="#D33A18"/>
<text transform="translate(579.66,142.00) scale(1,1.08)" font-size="8" text-anchor="start" fill="#111111" >63%</text>
<rect x="514.93" y="145.41" width="10.11" height="10.89" fill="#D33A18"/>
<text transform="translate(527.34,154.00) scale(1,1.08)" font-size="8" text-anchor="start" fill="#111111" >11%  (29%)</text>
<rect x="514.93" y="158.07" width="15.36" height="10.89" fill="#D33A18"/>
<text transform="translate(532.59,167.00) scale(1,1.08)" font-size="8" text-anchor="start" fill="#111111" >16%  (43%)</text>
<rect x="514.93" y="221.36" width="10.11" height="10.89" fill="#D33A18"/>
<text transform="translate(527.34,230.00) scale(1,1.08)" font-size="8" text-anchor="start" fill="#111111" >11%  (29%)</text>
<rect x="510.40" y="130.50" width="108.90" height="103.95" fill="none" stroke="#B3B3B3" stroke-width="1"/>
<rect x="510.40" y="2.50" width="108.90" height="18.10" fill="#D9D9D9" stroke="#B3B3B3" stroke-width="1"/>
<text transform="translate(564.85,15.51) scale(1,1.08)" font-size="11" text-anchor="middle" fill="#111111" >MSKCC Metastasis</text>
<line x1="514.93" y1="234.95" x2="514.93" y2="237.70" stroke="#333" stroke-width="1.07"/>
<text transform="translate(514.93,246.00) scale(1,1.08)" font-size="8" text-anchor="middle" fill="#424242" >0</text>
<line x1="539.71" y1="234.95" x2="539.71" y2="237.70" stroke="#333" stroke-width="1.07"/>
<text transform="translate(539.71,246.00) scale(1,1.08)" font-size="8" text-anchor="middle" fill="#424242" >25</text>
<line x1="564.48" y1="234.95" x2="564.48" y2="237.70" stroke="#333" stroke-width="1.07"/>
<text transform="translate(564.48,246.00) scale(1,1.08)" font-size="8" text-anchor="middle" fill="#424242" >50</text>
<line x1="589.25" y1="234.95" x2="589.25" y2="237.70" stroke="#333" stroke-width="1.07"/>
<text transform="translate(589.25,246.00) scale(1,1.08)" font-size="8" text-anchor="middle" fill="#424242" >75</text>
<line x1="614.03" y1="234.95" x2="614.03" y2="237.70" stroke="#333" stroke-width="1.07"/>
<text transform="translate(614.03,246.00) scale(1,1.08)" font-size="8" text-anchor="middle" fill="#424242" >100</text>
<rect x="619.40" y="21.20" width="18.40" height="104.25" fill="#D9D9D9" stroke="#B3B3B3" stroke-width="1"/>
<text transform="translate(624.64,73.33) rotate(90) scale(1,1.08)" font-size="11" text-anchor="middle" fill="#1A1A1A">MSS</text>
<rect x="619.40" y="130.50" width="18.40" height="103.95" fill="#D9D9D9" stroke="#B3B3B3" stroke-width="1"/>
<text transform="translate(624.64,182.47) rotate(90) scale(1,1.08)" font-size="11" text-anchor="middle" fill="#1A1A1A">MSI/HYPER</text>
<text transform="translate(47.60,32.00) scale(1,1.08)" font-size="8" text-anchor="end" fill="#424242" >WT</text>
<line x1="49.8" y1="28.43" x2="52.5" y2="28.43" stroke="#333" stroke-width="1.07"/>
<text transform="translate(47.60,45.00) scale(1,1.08)" font-size="8" text-anchor="end" fill="#424242" >G12</text>
<line x1="49.8" y1="41.15" x2="52.5" y2="41.15" stroke="#333" stroke-width="1.07"/>
<text transform="translate(47.60,57.00) scale(1,1.08)" font-size="8" text-anchor="end" fill="#424242" >G13</text>
<line x1="49.8" y1="53.87" x2="52.5" y2="53.87" stroke="#333" stroke-width="1.07"/>
<text transform="translate(47.60,70.00) scale(1,1.08)" font-size="8" text-anchor="end" fill="#424242" >Q61</text>
<line x1="49.8" y1="66.59" x2="52.5" y2="66.59" stroke="#333" stroke-width="1.07"/>
<text transform="translate(47.60,83.00) scale(1,1.08)" font-size="8" text-anchor="end" fill="#424242" >K117</text>
<line x1="49.8" y1="79.31" x2="52.5" y2="79.31" stroke="#333" stroke-width="1.07"/>
<text transform="translate(47.60,95.00) scale(1,1.08)" font-size="8" text-anchor="end" fill="#424242" >A146</text>
<line x1="49.8" y1="92.03" x2="52.5" y2="92.03" stroke="#333" stroke-width="1.07"/>
<text transform="translate(47.60,108.00) scale(1,1.08)" font-size="8" text-anchor="end" fill="#424242" >Other</text>
<line x1="49.8" y1="104.75" x2="52.5" y2="104.75" stroke="#333" stroke-width="1.07"/>
<text transform="translate(47.60,121.00) scale(1,1.08)" font-size="8" text-anchor="end" fill="#424242" >Multiple</text>
<line x1="49.8" y1="117.47" x2="52.5" y2="117.47" stroke="#333" stroke-width="1.07"/>
<text transform="translate(47.60,142.00) scale(1,1.08)" font-size="8" text-anchor="end" fill="#424242" >WT</text>
<line x1="49.8" y1="138.20" x2="52.5" y2="138.20" stroke="#333" stroke-width="1.07"/>
<text transform="translate(47.60,154.00) scale(1,1.08)" font-size="8" text-anchor="end" fill="#424242" >G12</text>
<line x1="49.8" y1="150.85" x2="52.5" y2="150.85" stroke="#333" stroke-width="1.07"/>
<text transform="translate(47.60,167.00) scale(1,1.08)" font-size="8" text-anchor="end" fill="#424242" >G13</text>
<line x1="49.8" y1="163.51" x2="52.5" y2="163.51" stroke="#333" stroke-width="1.07"/>
<text transform="translate(47.60,180.00) scale(1,1.08)" font-size="8" text-anchor="end" fill="#424242" >Q61</text>
<line x1="49.8" y1="176.17" x2="52.5" y2="176.17" stroke="#333" stroke-width="1.07"/>
<text transform="translate(47.60,192.00) scale(1,1.08)" font-size="8" text-anchor="end" fill="#424242" >K117</text>
<line x1="49.8" y1="188.83" x2="52.5" y2="188.83" stroke="#333" stroke-width="1.07"/>
<text transform="translate(47.60,205.00) scale(1,1.08)" font-size="8" text-anchor="end" fill="#424242" >A146</text>
<line x1="49.8" y1="201.49" x2="52.5" y2="201.49" stroke="#333" stroke-width="1.07"/>
<text transform="translate(47.60,218.00) scale(1,1.08)" font-size="8" text-anchor="end" fill="#424242" >Other</text>
<line x1="49.8" y1="214.15" x2="52.5" y2="214.15" stroke="#333" stroke-width="1.07"/>
<text transform="translate(47.60,230.00) scale(1,1.08)" font-size="8" text-anchor="end" fill="#424242" >Multiple</text>
<line x1="49.8" y1="226.80" x2="52.5" y2="226.80" stroke="#333" stroke-width="1.07"/>
<text transform="translate(14.1,127.60) rotate(-90) scale(1,1.08)" font-size="10" text-anchor="middle" fill="#000"><tspan font-style="italic">KRAS</tspan> mutated codon</text>
<text transform="translate(336.05,258.00) scale(1,1.08)" font-size="10.25" text-anchor="middle" fill="#000" >Mutated Cases (%)</text>
<text transform="translate(0.60,295.00) scale(1,1.08)" font-size="18.5" text-anchor="start" fill="#000" >B</text>
<rect x="52.80" y="302.40" width="108.60" height="96.10" fill="#F2F2F2"/>
<line x1="69.86" y1="302.40" x2="69.86" y2="398.50" stroke="#FAFAFA" stroke-width="0.55"/>
<line x1="94.79" y1="302.40" x2="94.79" y2="398.50" stroke="#FAFAFA" stroke-width="0.55"/>
<line x1="119.71" y1="302.40" x2="119.71" y2="398.50" stroke="#FAFAFA" stroke-width="0.55"/>
<line x1="144.64" y1="302.40" x2="144.64" y2="398.50" stroke="#FAFAFA" stroke-width="0.55"/>
<line x1="52.80" y1="309.43" x2="161.40" y2="309.43" stroke="#FFFFFF" stroke-width="1.07"/>
<line x1="52.80" y1="321.15" x2="161.40" y2="321.15" stroke="#FFFFFF" stroke-width="1.07"/>
<line x1="52.80" y1="332.87" x2="161.40" y2="332.87" stroke="#FFFFFF" stroke-width="1.07"/>
<line x1="52.80" y1="344.59" x2="161.40" y2="344.59" stroke="#FFFFFF" stroke-width="1.07"/>
<line x1="52.80" y1="356.31" x2="161.40" y2="356.31" stroke="#FFFFFF" stroke-width="1.07"/>
<line x1="52.80" y1="368.03" x2="161.40" y2="368.03" stroke="#FFFFFF" stroke-width="1.07"/>
<line x1="52.80" y1="379.75" x2="161.40" y2="379.75" stroke="#FFFFFF" stroke-width="1.07"/>
<line x1="52.80" y1="391.47" x2="161.40" y2="391.47" stroke="#FFFFFF" stroke-width="1.07"/>
<line x1="57.40" y1="302.40" x2="57.40" y2="398.50" stroke="#FFFFFF" stroke-width="1.07"/>
<line x1="82.33" y1="302.40" x2="82.33" y2="398.50" stroke="#FFFFFF" stroke-width="1.07"/>
<line x1="107.25" y1="302.40" x2="107.25" y2="398.50" stroke="#FFFFFF" stroke-width="1.07"/>
<line x1="132.18" y1="302.40" x2="132.18" y2="398.50" stroke="#FFFFFF" stroke-width="1.07"/>
<line x1="157.10" y1="302.40" x2="157.10" y2="398.50" stroke="#FFFFFF" stroke-width="1.07"/>
<line x1="107.25" y1="302.40" x2="107.25" y2="398.50" stroke="#000" stroke-width="1.2" stroke-dasharray="4 4" stroke-dashoffset="3.1"/>
<rect x="111.00" y="306.58" width="11.90" height="5.70" fill="#DC7F2C"/>
<rect x="76.00" y="318.30" width="13.80" height="5.70" fill="#C9302B"/>
<rect x="96.60" y="330.02" width="22.30" height="5.70" fill="#BFBFBF"/>
<rect x="99.00" y="341.74" width="36.70" height="5.70" fill="#BFBFBF"/>
<rect x="79.60" y="353.46" width="63.20" height="5.70" fill="#BFBFBF"/>
<rect x="96.10" y="365.18" width="32.20" height="5.70" fill="#BFBFBF"/>
<rect x="119.80" y="376.90" width="28.20" height="5.70" fill="#DC7F2C"/>
<rect x="121.00" y="388.62" width="29.80" height="5.70" fill="#DC7F2C"/>
<circle cx="117.20" cy="309.43" r="2.15" fill="#000"/>
<circle cx="82.20" cy="321.15" r="2.15" fill="#000"/>
<circle cx="108.00" cy="332.87" r="2.15" fill="#000"/>
<circle cx="120.00" cy="344.59" r="2.15" fill="#000"/>
<circle cx="118.60" cy="356.31" r="2.15" fill="#000"/>
<circle cx="113.90" cy="368.03" r="2.15" fill="#000"/>
<circle cx="138.00" cy="379.75" r="2.15" fill="#000"/>
<circle cx="141.10" cy="391.47" r="2.15" fill="#000"/>
<text transform="translate(57.40,313.00) scale(1,1.08)" font-size="8" text-anchor="start" fill="#111111" >MSS</text>
<text transform="translate(157.10,313.00) scale(1,1.08)" font-size="8" text-anchor="end" fill="#111111" >MSI</text>
<rect x="52.80" y="302.50" width="108.60" height="95.95" fill="none" stroke="#B3B3B3" stroke-width="1"/>
<rect x="52.80" y="283.50" width="108.60" height="18.40" fill="#D9D9D9" stroke="#B3B3B3" stroke-width="1"/>
<text transform="translate(107.10,296.66) scale(1,1.08)" font-size="11" text-anchor="middle" fill="#111111" >ALL</text>
<line x1="57.40" y1="398.95" x2="57.40" y2="401.70" stroke="#333" stroke-width="1.07"/>
<text transform="translate(57.40,410.00) scale(1,1.08)" font-size="8" text-anchor="middle" fill="#424242" >-1.0</text>
<line x1="82.33" y1="398.95" x2="82.33" y2="401.70" stroke="#333" stroke-width="1.07"/>
<text transform="translate(82.33,410.00) scale(1,1.08)" font-size="8" text-anchor="middle" fill="#424242" >-0.5</text>
<line x1="107.25" y1="398.95" x2="107.25" y2="401.70" stroke="#333" stroke-width="1.07"/>
<text transform="translate(107.25,410.00) scale(1,1.08)" font-size="8" text-anchor="middle" fill="#424242" >0.0</text>
<line x1="132.18" y1="398.95" x2="132.18" y2="401.70" stroke="#333" stroke-width="1.07"/>
<text transform="translate(132.18,410.00) scale(1,1.08)" font-size="8" text-anchor="middle" fill="#424242" >0.5</text>
<line x1="157.10" y1="398.95" x2="157.10" y2="401.70" stroke="#333" stroke-width="1.07"/>
<text transform="translate(157.10,410.00) scale(1,1.08)" font-size="8" text-anchor="middle" fill="#424242" >1.0</text>
<rect x="167.30" y="302.40" width="108.20" height="96.10" fill="#F2F2F2"/>
<line x1="184.36" y1="302.40" x2="184.36" y2="398.50" stroke="#FAFAFA" stroke-width="0.55"/>
<line x1="209.29" y1="302.40" x2="209.29" y2="398.50" stroke="#FAFAFA" stroke-width="0.55"/>
<line x1="234.21" y1="302.40" x2="234.21" y2="398.50" stroke="#FAFAFA" stroke-width="0.55"/>
<line x1="259.14" y1="302.40" x2="259.14" y2="398.50" stroke="#FAFAFA" stroke-width="0.55"/>
<line x1="167.30" y1="309.43" x2="275.50" y2="309.43" stroke="#FFFFFF" stroke-width="1.07"/>
<line x1="167.30" y1="321.15" x2="275.50" y2="321.15" stroke="#FFFFFF" stroke-width="1.07"/>
<line x1="167.30" y1="332.87" x2="275.50" y2="332.87" stroke="#FFFFFF" stroke-width="1.07"/>
<line x1="167.30" y1="344.59" x2="275.50" y2="344.59" stroke="#FFFFFF" stroke-width="1.07"/>
<line x1="167.30" y1="356.31" x2="275.50" y2="356.31" stroke="#FFFFFF" stroke-width="1.07"/>
<line x1="167.30" y1="368.03" x2="275.50" y2="368.03" stroke="#FFFFFF" stroke-width="1.07"/>
<line x1="167.30" y1="379.75" x2="275.50" y2="379.75" stroke="#FFFFFF" stroke-width="1.07"/>
<line x1="167.30" y1="391.47" x2="275.50" y2="391.47" stroke="#FFFFFF" stroke-width="1.07"/>
<line x1="171.90" y1="302.40" x2="171.90" y2="398.50" stroke="#FFFFFF" stroke-width="1.07"/>
<line x1="196.82" y1="302.40" x2="196.82" y2="398.50" stroke="#FFFFFF" stroke-width="1.07"/>
<line x1="221.75" y1="302.40" x2="221.75" y2="398.50" stroke="#FFFFFF" stroke-width="1.07"/>
<line x1="246.68" y1="302.40" x2="246.68" y2="398.50" stroke="#FFFFFF" stroke-width="1.07"/>
<line x1="271.60" y1="302.40" x2="271.60" y2="398.50" stroke="#FFFFFF" stroke-width="1.07"/>
<line x1="221.75" y1="302.40" x2="221.75" y2="398.50" stroke="#000" stroke-width="1.2" stroke-dasharray="4 4" stroke-dashoffset="3.1"/>
<rect x="232.20" y="306.58" width="22.00" height="5.70" fill="#DC5B2A"/>
<rect x="174.20" y="318.30" width="23.00" height="5.70" fill="#C9302B"/>
<rect x="181.60" y="330.02" width="43.70" height="5.70" fill="#BFBFBF"/>
<rect x="196.50" y="341.74" width="65.50" height="5.70" fill="#BFBFBF"/>
<rect x="171.90" y="353.46" width="85.60" height="5.70" fill="#BFBFBF"/>
<rect x="194.30" y="365.18" width="65.60" height="5.70" fill="#BFBFBF"/>
<rect x="211.10" y="376.90" width="54.50" height="5.70" fill="#BFBFBF"/>
<rect x="174.70" y="388.62" width="91.30" height="5.70" fill="#BFBFBF"/>
<circle cx="244.00" cy="309.43" r="2.15" fill="#000"/>
<circle cx="182.00" cy="321.15" r="2.15" fill="#000"/>
<circle cx="200.70" cy="332.87" r="2.15" fill="#000"/>
<circle cx="238.80" cy="344.59" r="2.15" fill="#000"/>
<circle cx="171.90" cy="356.31" r="2.15" fill="#000"/>
<circle cx="235.00" cy="368.03" r="2.15" fill="#000"/>
<circle cx="248.30" cy="379.75" r="2.15" fill="#000"/>
<circle cx="228.90" cy="391.47" r="2.15" fill="#000"/>
<text transform="translate(171.90,313.00) scale(1,1.08)" font-size="8" text-anchor="start" fill="#111111" >MSS</text>
<text transform="translate(271.60,313.00) scale(1,1.08)" font-size="8" text-anchor="end" fill="#111111" >MSI</text>
<rect x="167.30" y="302.50" width="108.20" height="95.95" fill="none" stroke="#B3B3B3" stroke-width="1"/>
<rect x="167.30" y="283.50" width="108.20" height="18.40" fill="#D9D9D9" stroke="#B3B3B3" stroke-width="1"/>
<text transform="translate(221.40,296.66) scale(1,1.08)" font-size="11" text-anchor="middle" fill="#111111" >DFCI Primary</text>
<line x1="171.90" y1="398.95" x2="171.90" y2="401.70" stroke="#333" stroke-width="1.07"/>
<text transform="translate(171.90,410.00) scale(1,1.08)" font-size="8" text-anchor="middle" fill="#424242" >-1.0</text>
<line x1="196.82" y1="398.95" x2="196.82" y2="401.70" stroke="#333" stroke-width="1.07"/>
<text transform="translate(196.82,410.00) scale(1,1.08)" font-size="8" text-anchor="middle" fill="#424242" >-0.5</text>
<line x1="221.75" y1="398.95" x2="221.75" y2="401.70" stroke="#333" stroke-width="1.07"/>
<text transform="translate(221.75,410.00) scale(1,1.08)" font-size="8" text-anchor="middle" fill="#424242" >0.0</text>
<line x1="246.68" y1="398.95" x2="246.68" y2="401.70" stroke="#333" stroke-width="1.07"/>
<text transform="translate(246.68,410.00) scale(1,1.08)" font-size="8" text-anchor="middle" fill="#424242" >0.5</text>
<line x1="271.60" y1="398.95" x2="271.60" y2="401.70" stroke="#333" stroke-width="1.07"/>
<text transform="translate(271.60,410.00) scale(1,1.08)" font-size="8" text-anchor="middle" fill="#424242" >1.0</text>
<rect x="281.40" y="302.40" width="108.90" height="96.10" fill="#F2F2F2"/>
<line x1="298.86" y1="302.40" x2="298.86" y2="398.50" stroke="#FAFAFA" stroke-width="0.55"/>
<line x1="323.79" y1="302.40" x2="323.79" y2="398.50" stroke="#FAFAFA" stroke-width="0.55"/>
<line x1="348.71" y1="302.40" x2="348.71" y2="398.50" stroke="#FAFAFA" stroke-width="0.55"/>
<line x1="373.64" y1="302.40" x2="373.64" y2="398.50" stroke="#FAFAFA" stroke-width="0.55"/>
<line x1="281.40" y1="309.43" x2="390.30" y2="309.43" stroke="#FFFFFF" stroke-width="1.07"/>
<line x1="281.40" y1="321.15" x2="390.30" y2="321.15" stroke="#FFFFFF" stroke-width="1.07"/>
<line x1="281.40" y1="332.87" x2="390.30" y2="332.87" stroke="#FFFFFF" stroke-width="1.07"/>
<line x1="281.40" y1="344.59" x2="390.30" y2="344.59" stroke="#FFFFFF" stroke-width="1.07"/>
<line x1="281.40" y1="356.31" x2="390.30" y2="356.31" stroke="#FFFFFF" stroke-width="1.07"/>
<line x1="281.40" y1="368.03" x2="390.30" y2="368.03" stroke="#FFFFFF" stroke-width="1.07"/>
<line x1="281.40" y1="379.75" x2="390.30" y2="379.75" stroke="#FFFFFF" stroke-width="1.07"/>
<line x1="281.40" y1="391.47" x2="390.30" y2="391.47" stroke="#FFFFFF" stroke-width="1.07"/>
<line x1="286.40" y1="302.40" x2="286.40" y2="398.50" stroke="#FFFFFF" stroke-width="1.07"/>
<line x1="311.32" y1="302.40" x2="311.32" y2="398.50" stroke="#FFFFFF" stroke-width="1.07"/>
<line x1="336.25" y1="302.40" x2="336.25" y2="398.50" stroke="#FFFFFF" stroke-width="1.07"/>
<line x1="361.18" y1="302.40" x2="361.18" y2="398.50" stroke="#FFFFFF" stroke-width="1.07"/>
<line x1="386.10" y1="302.40" x2="386.10" y2="398.50" stroke="#FFFFFF" stroke-width="1.07"/>
<line x1="336.25" y1="302.40" x2="336.25" y2="398.50" stroke="#000" stroke-width="1.2" stroke-dasharray="4 4" stroke-dashoffset="3.1"/>
<rect x="330.90" y="306.58" width="23.20" height="5.70" fill="#BFBFBF"/>
<rect x="303.90" y="318.30" width="26.00" height="5.70" fill="#E8B545"/>
<rect x="313.10" y="330.02" width="43.80" height="5.70" fill="#BFBFBF"/>
<rect x="313.10" y="341.74" width="64.60" height="5.70" fill="#BFBFBF"/>
<rect x="290.20" y="353.46" width="93.40" height="5.70" fill="#BFBFBF"/>
<rect x="329.20" y="365.18" width="45.70" height="5.70" fill="#BFBFBF"/>
<rect x="303.20" y="376.90" width="76.90" height="5.70" fill="#BFBFBF"/>
<rect x="306.50" y="388.62" width="75.70" height="5.70" fill="#BFBFBF"/>
<circle cx="342.20" cy="309.43" r="2.15" fill="#000"/>
<circle cx="315.50" cy="321.15" r="2.15" fill="#000"/>
<circle cx="336.80" cy="332.87" r="2.15" fill="#000"/>
<circle cx="355.70" cy="344.59" r="2.15" fill="#000"/>
<circle cx="355.50" cy="356.31" r="2.15" fill="#000"/>
<circle cx="357.90" cy="368.03" r="2.15" fill="#000"/>
<circle cx="355.50" cy="379.75" r="2.15" fill="#000"/>
<circle cx="361.40" cy="391.47" r="2.15" fill="#000"/>
<text transform="translate(286.40,313.00) scale(1,1.08)" font-size="8" text-anchor="start" fill="#111111" >MSS</text>
<text transform="translate(386.10,313.00) scale(1,1.08)" font-size="8" text-anchor="end" fill="#111111" >MSI</text>
<rect x="281.40" y="302.50" width="108.90" height="95.95" fill="none" stroke="#B3B3B3" stroke-width="1"/>
<rect x="281.40" y="283.50" width="108.90" height="18.40" fill="#D9D9D9" stroke="#B3B3B3" stroke-width="1"/>
<text transform="translate(335.85,296.66) scale(1,1.08)" font-size="11" text-anchor="middle" fill="#111111" >TCGA Primary</text>
<line x1="286.40" y1="398.95" x2="286.40" y2="401.70" stroke="#333" stroke-width="1.07"/>
<text transform="translate(286.40,410.00) scale(1,1.08)" font-size="8" text-anchor="middle" fill="#424242" >-1.0</text>
<line x1="311.32" y1="398.95" x2="311.32" y2="401.70" stroke="#333" stroke-width="1.07"/>
<text transform="translate(311.32,410.00) scale(1,1.08)" font-size="8" text-anchor="middle" fill="#424242" >-0.5</text>
<line x1="336.25" y1="398.95" x2="336.25" y2="401.70" stroke="#333" stroke-width="1.07"/>
<text transform="translate(336.25,410.00) scale(1,1.08)" font-size="8" text-anchor="middle" fill="#424242" >0.0</text>
<line x1="361.18" y1="398.95" x2="361.18" y2="401.70" stroke="#333" stroke-width="1.07"/>
<text transform="translate(361.18,410.00) scale(1,1.08)" font-size="8" text-anchor="middle" fill="#424242" >0.5</text>
<line x1="386.10" y1="398.95" x2="386.10" y2="401.70" stroke="#333" stroke-width="1.07"/>
<text transform="translate(386.10,410.00) scale(1,1.08)" font-size="8" text-anchor="middle" fill="#424242" >1.0</text>
<rect x="395.90" y="302.40" width="108.50" height="96.10" fill="#F2F2F2"/>
<line x1="413.36" y1="302.40" x2="413.36" y2="398.50" stroke="#FAFAFA" stroke-width="0.55"/>
<line x1="438.29" y1="302.40" x2="438.29" y2="398.50" stroke="#FAFAFA" stroke-width="0.55"/>
<line x1="463.21" y1="302.40" x2="463.21" y2="398.50" stroke="#FAFAFA" stroke-width="0.55"/>
<line x1="488.14" y1="302.40" x2="488.14" y2="398.50" stroke="#FAFAFA" stroke-width="0.55"/>
<line x1="395.90" y1="309.43" x2="504.40" y2="309.43" stroke="#FFFFFF" stroke-width="1.07"/>
<line x1="395.90" y1="321.15" x2="504.40" y2="321.15" stroke="#FFFFFF" stroke-width="1.07"/>
<line x1="395.90" y1="332.87" x2="504.40" y2="332.87" stroke="#FFFFFF" stroke-width="1.07"/>
<line x1="395.90" y1="344.59" x2="504.40" y2="344.59" stroke="#FFFFFF" stroke-width="1.07"/>
<line x1="395.90" y1="356.31" x2="504.40" y2="356.31" stroke="#FFFFFF" stroke-width="1.07"/>
<line x1="395.90" y1="368.03" x2="504.40" y2="368.03" stroke="#FFFFFF" stroke-width="1.07"/>
<line x1="395.90" y1="379.75" x2="504.40" y2="379.75" stroke="#FFFFFF" stroke-width="1.07"/>
<line x1="395.90" y1="391.47" x2="504.40" y2="391.47" stroke="#FFFFFF" stroke-width="1.07"/>
<line x1="400.90" y1="302.40" x2="400.90" y2="398.50" stroke="#FFFFFF" stroke-width="1.07"/>
<line x1="425.82" y1="302.40" x2="425.82" y2="398.50" stroke="#FFFFFF" stroke-width="1.07"/>
<line x1="450.75" y1="302.40" x2="450.75" y2="398.50" stroke="#FFFFFF" stroke-width="1.07"/>
<line x1="475.68" y1="302.40" x2="475.68" y2="398.50" stroke="#FFFFFF" stroke-width="1.07"/>
<line x1="500.60" y1="302.40" x2="500.60" y2="398.50" stroke="#FFFFFF" stroke-width="1.07"/>
<line x1="450.75" y1="302.40" x2="450.75" y2="398.50" stroke="#000" stroke-width="1.2" stroke-dasharray="4 4" stroke-dashoffset="3.1"/>
<rect x="441.10" y="306.58" width="22.00" height="5.70" fill="#BFBFBF"/>
<rect x="421.30" y="318.30" width="25.30" height="5.70" fill="#E8B545"/>
<rect x="444.00" y="330.02" width="33.60" height="5.70" fill="#BFBFBF"/>
<rect x="422.40" y="341.74" width="64.40" height="5.70" fill="#BFBFBF"/>
<rect x="420.10" y="353.46" width="75.50" height="5.70" fill="#BFBFBF"/>
<rect x="413.20" y="365.18" width="58.90" height="5.70" fill="#BFBFBF"/>
<rect x="468.40" y="376.90" width="31.90" height="5.70" fill="#E8B545"/>
<rect x="442.10" y="388.62" width="55.80" height="5.70" fill="#BFBFBF"/>
<circle cx="452.00" cy="309.43" r="2.15" fill="#000"/>
<circle cx="432.90" cy="321.15" r="2.15" fill="#000"/>
<circle cx="462.90" cy="332.87" r="2.15" fill="#000"/>
<circle cx="462.00" cy="344.59" r="2.15" fill="#000"/>
<circle cx="473.10" cy="356.31" r="2.15" fill="#000"/>
<circle cx="443.30" cy="368.03" r="2.15" fill="#000"/>
<circle cx="496.00" cy="379.75" r="2.15" fill="#000"/>
<circle cx="484.70" cy="391.47" r="2.15" fill="#000"/>
<text transform="translate(400.90,313.00) scale(1,1.08)" font-size="8" text-anchor="start" fill="#111111" >MSS</text>
<text transform="translate(500.60,313.00) scale(1,1.08)" font-size="8" text-anchor="end" fill="#111111" >MSI</text>
<rect x="395.90" y="302.50" width="108.50" height="95.95" fill="none" stroke="#B3B3B3" stroke-width="1"/>
<rect x="395.90" y="283.50" width="108.50" height="18.40" fill="#D9D9D9" stroke="#B3B3B3" stroke-width="1"/>
<text transform="translate(450.15,296.66) scale(1,1.08)" font-size="11" text-anchor="middle" fill="#111111" >MSKCC Primary</text>
<line x1="400.90" y1="398.95" x2="400.90" y2="401.70" stroke="#333" stroke-width="1.07"/>
<text transform="translate(400.90,410.00) scale(1,1.08)" font-size="8" text-anchor="middle" fill="#424242" >-1.0</text>
<line x1="425.82" y1="398.95" x2="425.82" y2="401.70" stroke="#333" stroke-width="1.07"/>
<text transform="translate(425.82,410.00) scale(1,1.08)" font-size="8" text-anchor="middle" fill="#424242" >-0.5</text>
<line x1="450.75" y1="398.95" x2="450.75" y2="401.70" stroke="#333" stroke-width="1.07"/>
<text transform="translate(450.75,410.00) scale(1,1.08)" font-size="8" text-anchor="middle" fill="#424242" >0.0</text>
<line x1="475.68" y1="398.95" x2="475.68" y2="401.70" stroke="#333" stroke-width="1.07"/>
<text transform="translate(475.68,410.00) scale(1,1.08)" font-size="8" text-anchor="middle" fill="#424242" >0.5</text>
<line x1="500.60" y1="398.95" x2="500.60" y2="401.70" stroke="#333" stroke-width="1.07"/>
<text transform="translate(500.60,410.00) scale(1,1.08)" font-size="8" text-anchor="middle" fill="#424242" >1.0</text>
<rect x="510.40" y="302.40" width="108.90" height="96.10" fill="#F2F2F2"/>
<line x1="527.86" y1="302.40" x2="527.86" y2="398.50" stroke="#FAFAFA" stroke-width="0.55"/>
<line x1="552.79" y1="302.40" x2="552.79" y2="398.50" stroke="#FAFAFA" stroke-width="0.55"/>
<line x1="577.71" y1="302.40" x2="577.71" y2="398.50" stroke="#FAFAFA" stroke-width="0.55"/>
<line x1="602.64" y1="302.40" x2="602.64" y2="398.50" stroke="#FAFAFA" stroke-width="0.55"/>
<line x1="510.40" y1="309.43" x2="619.30" y2="309.43" stroke="#FFFFFF" stroke-width="1.07"/>
<line x1="510.40" y1="321.15" x2="619.30" y2="321.15" stroke="#FFFFFF" stroke-width="1.07"/>
<line x1="510.40" y1="332.87" x2="619.30" y2="332.87" stroke="#FFFFFF" stroke-width="1.07"/>
<line x1="510.40" y1="344.59" x2="619.30" y2="344.59" stroke="#FFFFFF" stroke-width="1.07"/>
<line x1="510.40" y1="356.31" x2="619.30" y2="356.31" stroke="#FFFFFF" stroke-width="1.07"/>
<line x1="510.40" y1="368.03" x2="619.30" y2="368.03" stroke="#FFFFFF" stroke-width="1.07"/>
<line x1="510.40" y1="379.75" x2="619.30" y2="379.75" stroke="#FFFFFF" stroke-width="1.07"/>
<line x1="510.40" y1="391.47" x2="619.30" y2="391.47" stroke="#FFFFFF" stroke-width="1.07"/>
<line x1="515.40" y1="302.40" x2="515.40" y2="398.50" stroke="#FFFFFF" stroke-width="1.07"/>
<line x1="540.33" y1="302.40" x2="540.33" y2="398.50" stroke="#FFFFFF" stroke-width="1.07"/>
<line x1="565.25" y1="302.40" x2="565.25" y2="398.50" stroke="#FFFFFF" stroke-width="1.07"/>
<line x1="590.17" y1="302.40" x2="590.17" y2="398.50" stroke="#FFFFFF" stroke-width="1.07"/>
<line x1="615.10" y1="302.40" x2="615.10" y2="398.50" stroke="#FFFFFF" stroke-width="1.07"/>
<line x1="565.25" y1="302.40" x2="565.25" y2="398.50" stroke="#000" stroke-width="1.2" stroke-dasharray="4 4" stroke-dashoffset="3.1"/>
<rect x="545.20" y="306.58" width="48.00" height="5.70" fill="#BFBFBF"/>
<rect x="518.90" y="318.30" width="53.00" height="5.70" fill="#BFBFBF"/>
<rect x="545.60" y="330.02" width="59.40" height="5.70" fill="#BFBFBF"/>
<rect x="515.40" y="341.74" width="93.40" height="5.70" fill="#BFBFBF"/>
<rect x="515.40" y="353.46" width="99.30" height="5.70" fill="#BFBFBF"/>
<rect x="515.40" y="365.18" width="88.40" height="5.70" fill="#BFBFBF"/>
<rect x="515.40" y="376.90" width="97.40" height="5.70" fill="#BFBFBF"/>
<rect x="599.10" y="388.62" width="16.00" height="5.70" fill="#DC7F2C"/>
<circle cx="569.30" cy="309.43" r="2.15" fill="#000"/>
<circle cx="538.80" cy="321.15" r="2.15" fill="#000"/>
<circle cx="585.90" cy="332.87" r="2.15" fill="#000"/>
<circle cx="515.40" cy="344.59" r="2.15" fill="#000"/>
<circle cx="515.40" cy="356.31" r="2.15" fill="#000"/>
<circle cx="515.40" cy="368.03" r="2.15" fill="#000"/>
<circle cx="515.40" cy="379.75" r="2.15" fill="#000"/>
<circle cx="615.10" cy="391.47" r="2.15" fill="#000"/>
<text transform="translate(515.40,313.00) scale(1,1.08)" font-size="8" text-anchor="start" fill="#111111" >MSS</text>
<text transform="translate(615.10,313.00) scale(1,1.08)" font-size="8" text-anchor="end" fill="#111111" >MSI</text>
<rect x="510.40" y="302.50" width="108.90" height="95.95" fill="none" stroke="#B3B3B3" stroke-width="1"/>
<rect x="510.40" y="283.50" width="108.90" height="18.40" fill="#D9D9D9" stroke="#B3B3B3" stroke-width="1"/>
<text transform="translate(564.85,296.66) scale(1,1.08)" font-size="11" text-anchor="middle" fill="#111111" >MSKCC Metastasis</text>
<line x1="515.40" y1="398.95" x2="515.40" y2="401.70" stroke="#333" stroke-width="1.07"/>
<text transform="translate(515.40,410.00) scale(1,1.08)" font-size="8" text-anchor="middle" fill="#424242" >-1.0</text>
<line x1="540.33" y1="398.95" x2="540.33" y2="401.70" stroke="#333" stroke-width="1.07"/>
<text transform="translate(540.33,410.00) scale(1,1.08)" font-size="8" text-anchor="middle" fill="#424242" >-0.5</text>
<line x1="565.25" y1="398.95" x2="565.25" y2="401.70" stroke="#333" stroke-width="1.07"/>
<text transform="translate(565.25,410.00) scale(1,1.08)" font-size="8" text-anchor="middle" fill="#424242" >0.0</text>
<line x1="590.17" y1="398.95" x2="590.17" y2="401.70" stroke="#333" stroke-width="1.07"/>
<text transform="translate(590.17,410.00) scale(1,1.08)" font-size="8" text-anchor="middle" fill="#424242" >0.5</text>
<line x1="615.10" y1="398.95" x2="615.10" y2="401.70" stroke="#333" stroke-width="1.07"/>
<text transform="translate(615.10,410.00) scale(1,1.08)" font-size="8" text-anchor="middle" fill="#424242" >1.0</text>
<text transform="translate(47.60,313.00) scale(1,1.08)" font-size="8" text-anchor="end" fill="#424242" >WT</text>
<line x1="49.8" y1="309.43" x2="52.5" y2="309.43" stroke="#333" stroke-width="1.07"/>
<text transform="translate(47.60,325.00) scale(1,1.08)" font-size="8" text-anchor="end" fill="#424242" >G12</text>
<line x1="49.8" y1="321.15" x2="52.5" y2="321.15" stroke="#333" stroke-width="1.07"/>
<text transform="translate(47.60,336.00) scale(1,1.08)" font-size="8" text-anchor="end" fill="#424242" >G13</text>
<line x1="49.8" y1="332.87" x2="52.5" y2="332.87" stroke="#333" stroke-width="1.07"/>
<text transform="translate(47.60,348.00) scale(1,1.08)" font-size="8" text-anchor="end" fill="#424242" >Q61</text>
<line x1="49.8" y1="344.59" x2="52.5" y2="344.59" stroke="#333" stroke-width="1.07"/>
<text transform="translate(47.60,360.00) scale(1,1.08)" font-size="8" text-anchor="end" fill="#424242" >K117</text>
<line x1="49.8" y1="356.31" x2="52.5" y2="356.31" stroke="#333" stroke-width="1.07"/>
<text transform="translate(47.60,371.00) scale(1,1.08)" font-size="8" text-anchor="end" fill="#424242" >A146</text>
<line x1="49.8" y1="368.03" x2="52.5" y2="368.03" stroke="#333" stroke-width="1.07"/>
<text transform="translate(47.60,383.00) scale(1,1.08)" font-size="8" text-anchor="end" fill="#424242" >Other</text>
<line x1="49.8" y1="379.75" x2="52.5" y2="379.75" stroke="#333" stroke-width="1.07"/>
<text transform="translate(47.60,395.00) scale(1,1.08)" font-size="8" text-anchor="end" fill="#424242" >Multiple</text>
<line x1="49.8" y1="391.47" x2="52.5" y2="391.47" stroke="#333" stroke-width="1.07"/>
<text transform="translate(14.1,350.45) rotate(-90) scale(1,1.08)" font-size="10" text-anchor="middle" fill="#000"><tspan font-style="italic">KRAS</tspan> mutated codon</text>
<text transform="translate(336.05,421.00) scale(1,1.08)" font-size="10.25" text-anchor="middle" fill="#000" >Yule’s Q</text>
<text transform="translate(635.60,311.60) scale(1,1.08)" font-size="10" text-anchor="start" fill="#000" >Sig Level</text>
<rect x="635.2" y="318.0" width="15.9" height="76.8" fill="#F2F2F2"/>
<rect x="637.0" y="322.95" width="12.9" height="5.9" fill="#BFBFBF"/>
<text transform="translate(656.40,328.78) scale(1,1.08)" font-size="8" text-anchor="start" fill="#000" >NS</text>
<rect x="637.0" y="338.95" width="12.9" height="5.9" fill="#E8B545"/>
<text transform="translate(656.40,344.78) scale(1,1.08)" font-size="8" text-anchor="start" fill="#000" >&lt;0.05</text>
<rect x="637.0" y="354.95" width="12.9" height="5.9" fill="#DC7F2C"/>
<text transform="translate(656.40,360.78) scale(1,1.08)" font-size="8" text-anchor="start" fill="#000" >&lt;0.01</text>
<rect x="637.0" y="370.95" width="12.9" height="5.9" fill="#DC5B2A"/>
<text transform="translate(656.40,376.78) scale(1,1.08)" font-size="8" text-anchor="start" fill="#000" >&lt;0.001</text>
<rect x="637.0" y="386.95" width="12.9" height="5.9" fill="#C9302B"/>
<text transform="translate(656.40,392.78) scale(1,1.08)" font-size="8" text-anchor="start" fill="#000" >&lt;0.0001</text>
</svg>
</body></html>
